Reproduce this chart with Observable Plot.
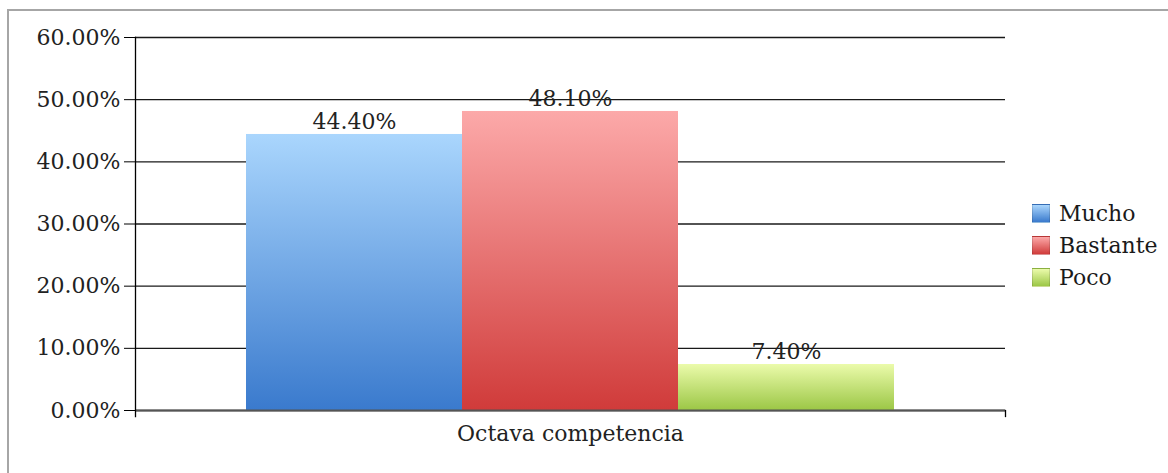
<!DOCTYPE html>
<html><head><meta charset="utf-8">
<script src="https://cdn.jsdelivr.net/npm/d3@7"></script>
<script src="https://cdn.jsdelivr.net/npm/@observablehq/plot@0.6"></script>
<style>
body{margin:0;background:#fff;width:1168px;height:473px;overflow:hidden;position:relative;font-family:"DejaVu Serif",serif;}
#border{position:absolute;left:7px;top:9px;width:1200px;height:500px;border-left:2px solid #a6a6a6;border-top:2px solid #a6a6a6;}
#chart{position:absolute;left:0;top:0;}
#legend{position:absolute;left:1032px;top:198px;font-size:22px;color:#1a1a1a;}
.row{display:flex;align-items:center;height:31.7px;}
.sw{width:18px;height:19px;margin-right:9px;box-sizing:border-box;border:1px solid rgba(0,0,0,0.12);}
</style></head>
<body>
<div id="border"></div>
<div id="chart"></div>
<div id="legend"></div>
<script>
const category = "Octava competencia";
const series = ["Mucho", "Bastante", "Poco"];
const values = [44.4, 48.1, 7.4];
const yTicks = [0, 10, 20, 30, 40, 50, 60];

const gradTop = ["#aad6fd", "#fca9a9", "#ebfbab"];
const gradBottom = ["#3a7acd", "#d03b3a", "#9cc746"];

const data = series.map((s, i) => ({series: s, value: values[i]}));
const ids = series.map((s, i) => "grad" + i);

const defs = () => {
  const d = d3.create("svg:defs");
  series.forEach((s, i) => {
    const g = d.append("linearGradient").attr("id", ids[i])
      .attr("x1", 0).attr("y1", 0).attr("x2", 0).attr("y2", 1);
    g.append("stop").attr("offset", "0%").attr("stop-color", gradTop[i]);
    g.append("stop").attr("offset", "100%").attr("stop-color", gradBottom[i]);
  });
  return d.node();
};

const chart = Plot.plot({
  width: 1168, height: 473,
  marginLeft: 135, marginRight: 163, marginTop: 37, marginBottom: 63,
  style: {fontFamily: "DejaVu Serif", fontSize: "22px", color: "#222", background: "transparent"},
  x: {domain: series, paddingInner: 0, paddingOuter: 0.505, axis: null},
  y: {domain: [0, 60], ticks: yTicks},
  color: {type: "ordinal", domain: series, range: ids.map(id => `url(#${id})`)},
  marks: [
    defs,
    Plot.gridY(yTicks, {stroke: "#000", strokeOpacity: 0.9, strokeWidth: 1.3}),
    Plot.barY(data, {x: "series", y: "value", fill: "series"}),
    Plot.ruleY([0], {stroke: "#555", strokeWidth: 2}),
    Plot.axisY(yTicks, {tickSize: 11, tickPadding: 4, tickFormat: d => d.toFixed(2) + "%", label: null, stroke: "#000", fontSize: 22}),
    Plot.frame({anchor: "left", insetBottom: -6, stroke: "#000", strokeWidth: 1.3}),
    Plot.frame({anchor: "right", insetTop: 373, insetBottom: -6, stroke: "#000", strokeWidth: 1.3}),
    Plot.text(data, {x: "series", y: "value", text: d => d.value.toFixed(2) + "%", dy: -5, lineAnchor: "bottom", fontSize: 22, fill: "#222"}),
    Plot.text([category], {frameAnchor: "bottom", dy: 30, text: d => d, fontSize: 22, fill: "#222"})
  ]
});
document.getElementById("chart").appendChild(chart);

const legend = document.getElementById("legend");
series.forEach((s, i) => {
  const row = document.createElement("div");
  row.className = "row";
  const sw = document.createElement("div");
  sw.className = "sw";
  sw.style.background = `linear-gradient(${gradTop[i]}, ${gradBottom[i]})`;
  const t = document.createElement("span");
  t.textContent = s;
  row.appendChild(sw); row.appendChild(t);
  legend.appendChild(row);
});
</script>
</body></html>
